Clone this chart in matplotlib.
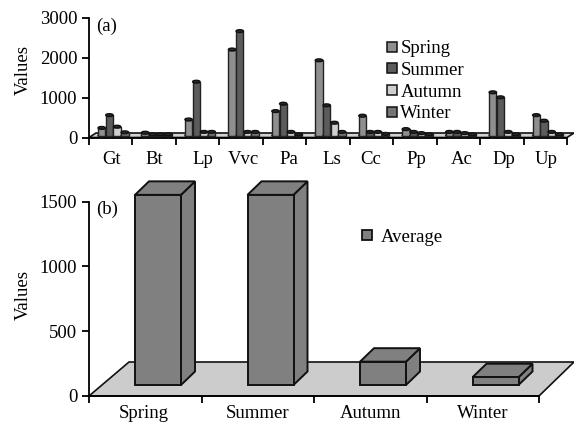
import matplotlib
matplotlib.use("Agg")
import matplotlib.pyplot as plt
from matplotlib.lines import Line2D
from matplotlib.patches import Ellipse, Polygon, Rectangle

plt.rcParams["font.family"] = ["Liberation Serif", "DejaVu Serif"]
plt.rcParams["font.size"] = 13.5

W, H = 574, 422

SITES = ["Gt", "Bt", "Lp", "Vvc", "Pa", "Ls", "Cc", "Pp", "Ac", "Dp", "Up"]
SEASONS = ["Spring", "Summer", "Autumn", "Winter"]
SPRING = [190, 70, 400, 2150, 610, 1880, 495, 160, 90, 1080, 510]
SUMMER = [510, 30, 1345, 2610, 795, 755, 90, 90, 90, 955, 370]
AUTUMN = [220, 30, 90, 90, 90, 320, 90, 60, 60, 90, 90]
WINTER = [80, 30, 90, 90, 30, 90, 40, 30, 30, 30, 30]
AVERAGE = [1468, 1468, 180, 60]

SEASON_COLORS = ["#8f8f8f", "#5c5c5c", "#cfcfcf", "#767676"]
# hand placed labels in the original sit a little off centre (pixels)
SITE_NUDGE = [1, 0.5, 5, 2.5, 4, 3.5, -1, 1, 3, 2, 1]
SEASON_NUDGE = [-1, 0, 0, 0]


def make_axes(fig, left, right, bottom, top):
    ax = fig.add_axes([left / W, 1 - bottom / H, (right - left) / W, (bottom - top) / H])
    ax.spines["top"].set_visible(False)
    ax.spines["right"].set_visible(False)
    ax.spines["left"].set_linewidth(1.3)
    ax.spines["bottom"].set_linewidth(1.3)
    ax.tick_params(axis="both", which="major", width=1.3, length=5, pad=3.5)
    return ax


def set_labels(ax, names, nudge, per_px, pad):
    ax.set_xticks(range(len(names) + 1))
    ax.set_xticklabels([])
    centers = [i + 0.5 + n * per_px for i, n in enumerate(nudge)]
    ax.set_xticks(centers, minor=True)
    ax.set_xticklabels(names, minor=True)
    ax.tick_params(axis="x", which="minor", length=0, pad=pad)


fig = plt.figure(figsize=(W / 100, H / 100), dpi=100, facecolor="white")

# panel a
ax = make_axes(fig, 89, 567, 137.5, 17.5)
ax.set_xlim(0, len(SITES))
ax.set_ylim(0, 3000)
ax.set_yticks([0, 1000, 2000, 3000])
sx = len(SITES) / 478
sy = 3000 / 120
set_labels(ax, SITES, SITE_NUDGE, sx, 9.5)
ax.add_patch(Polygon([(0, 0), (7 * sx, 4.5 * sy), (len(SITES) + 7 * sx, 4.5 * sy), (len(SITES), 0)],
                     closed=True, facecolor="#d2d2d2", edgecolor="#111111", lw=1.2,
                     clip_on=False, zorder=1))
base = 2 * sy
for j, (values, color) in enumerate(zip([SPRING, SUMMER, AUTUMN, WINTER], SEASON_COLORS)):
    for i, v in enumerate(values):
        x = i + (12.7 + 7.7 * j) * sx
        bw = 7.4 * sx
        eh = 2.8 * sy
        ax.add_patch(Ellipse((x, base), bw, eh, facecolor=color, edgecolor="#222222",
                             lw=1.0, clip_on=False, zorder=3 + j))
        ax.add_patch(Rectangle((x - bw / 2, base), bw, v, facecolor=color, edgecolor="#222222",
                               lw=1.0, clip_on=False, zorder=3 + j))
        ax.add_patch(Ellipse((x, base + v), bw, eh, facecolor="#2a2a2a", edgecolor="#111111",
                             lw=1.0, clip_on=False, zorder=3 + j))
ax.set_ylabel("Values")
ax.yaxis.set_label_coords(-0.119, 0.56)
ax.text(0.015, 0.925, "(a)", transform=ax.transAxes, va="center")
handles = [Line2D([], [], linestyle="none", marker="s", markersize=7, markerfacecolor=c,
                  markeredgecolor="#111111", markeredgewidth=1.1) for c in SEASON_COLORS]
ax.legend(handles, SEASONS, loc="upper left", bbox_to_anchor=(0.622, 0.81), frameon=False,
          handlelength=0.6, handletextpad=0.15, labelspacing=0.24, borderpad=0, borderaxespad=0)

# panel b
ax = make_axes(fig, 89, 539, 396, 201.7)
ax.set_xlim(0, len(SEASONS))
ax.set_ylim(0, 1500)
ax.set_yticks([0, 500, 1000, 1500])
sx = len(SEASONS) / 450
sy = 1500 / 194.3
set_labels(ax, SEASONS, SEASON_NUDGE, sx, 6.5)
ax.add_patch(Polygon([(0, 0), (40 * sx, 34 * sy), (485 * sx, 34 * sy), (450 * sx, 0)],
                     closed=True, facecolor="#cccccc", edgecolor="#111111", lw=1.2,
                     clip_on=False, zorder=1))
base = 11 * sy
bw = 46 * sx
dx = 14 * sx
dy = 13.5 * sy
for i, v in enumerate(AVERAGE):
    x0 = i + 46 * sx
    top = base + v
    edge = dict(facecolor="#808080", edgecolor="#111111", lw=1.4, clip_on=False, zorder=3)
    ax.add_patch(Polygon([(x0 + bw, base), (x0 + bw + dx, base + dy), (x0 + bw + dx, top + dy),
                          (x0 + bw, top)], closed=True, **edge))
    ax.add_patch(Polygon([(x0, top), (x0 + bw, top), (x0 + bw + dx, top + dy), (x0 + dx, top + dy)],
                         closed=True, **edge))
    ax.add_patch(Rectangle((x0, base), bw, v, **edge))
ax.set_ylabel("Values")
ax.yaxis.set_label_coords(-0.127, 0.52)
ax.text(0.016, 0.96, "(b)", transform=ax.transAxes, va="center")
handle = Line2D([], [], linestyle="none", marker="s", markersize=7, markerfacecolor="#808080",
                markeredgecolor="#111111", markeredgewidth=1.3)
ax.legend([handle], ["Average"], loc="upper left", bbox_to_anchor=(0.605, 0.86), frameon=False,
          handlelength=0.6, handletextpad=0.43, borderpad=0, borderaxespad=0)

fig.savefig("out.png", dpi=100)
